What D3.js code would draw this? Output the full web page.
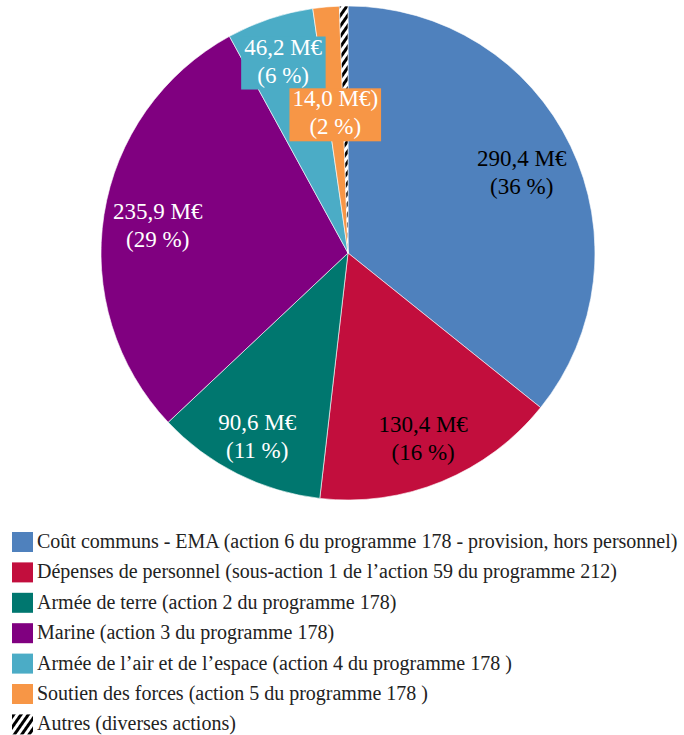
<!DOCTYPE html>
<html>
<head>
<meta charset="utf-8">
<script src="https://cdn.jsdelivr.net/npm/d3@7"></script>
<style>
  body { margin: 0; background: #fff; }
  svg { display: block; font-family: "Liberation Serif", "DejaVu Serif", serif; }
</style>
</head>
<body>
<svg id="chart" width="684" height="735"></svg>
<script>
// Budget split (M€), slices clockwise from 12 o'clock
const categories = [
  'Coût communs - EMA (action 6 du programme 178 - provision, hors personnel)',
  'Dépenses de personnel (sous-action 1 de l’action 59 du programme 212)',
  'Armée de terre (action 2 du programme 178)',
  'Marine (action 3 du programme 178)',
  'Armée de l’air et de l’espace (action 4 du programme 178 )',
  'Soutien des forces (action 5 du programme 178 )',
  'Autres (diverses actions)'
];
const values = [290.4, 130.4, 90.6, 235.9, 46.2, 14.0, 4.5];
const valueLabels = ['290,4 M€', '130,4 M€', '90,6 M€', '235,9 M€', '46,2 M€', '14,0 M€)', ''];
const pctLabels = ['(36 %)', '(16 %)', '(11 %)', '(29 %)', '(6 %)', '(2 %)', ''];
const colors = ['#4F81BD', '#C20E3D', '#00776F', '#800080', '#4BACC6', '#F79646', 'url(#hatch)'];
const labelColors = ['#000', '#000', '#fff', '#fff', '#fff', '#fff', '#fff'];

const svg = d3.select('#chart');
const cx = 348, cy = 253, radius = 247;

// hatch pattern for "Autres"
const defs = svg.append('defs');
const pat = defs.append('pattern').attr('id', 'hatch')
  .attr('patternUnits', 'userSpaceOnUse').attr('width', 6).attr('height', 6)
  .attr('patternTransform', 'rotate(35)');
pat.append('rect').attr('width', 6).attr('height', 6).attr('fill', '#fff');
pat.append('rect').attr('width', 3).attr('height', 6).attr('fill', '#000');

const pie = d3.pie().sort(null).value(d => d)(values);
const arc = d3.arc().innerRadius(0).outerRadius(radius);
// label radius as share of the radius; small slices get their own spot
const labelRadius = [0.78, 0.8, 0.82, 0.78, 0.83, 0.58, 0];

const g = svg.append('g').attr('transform', `translate(${cx},${cy})`);

g.selectAll('path.slice').data(pie).enter().append('path')
  .attr('class', 'slice')
  .attr('d', arc)
  .attr('fill', (d, i) => colors[i])
  .attr('stroke', '#fff').attr('stroke-width', 0.6);

// data labels
pie.forEach((d, i) => {
  if (!valueLabels[i]) return;
  const la = d3.arc().innerRadius(radius * labelRadius[i]).outerRadius(radius * labelRadius[i]);
  const [lx, ly] = la.centroid(d);
  const lg = g.append('g').attr('transform', `translate(${lx},${ly})`);
  const t = lg.append('text')
    .attr('text-anchor', 'middle')
    .style('font-size', '23px')
    .attr('fill', labelColors[i]);
  t.append('tspan').attr('x', 0).attr('y', -4).text(valueLabels[i]);
  t.append('tspan').attr('x', 0).attr('y', 24).text(pctLabels[i]);
  // boxed callouts for the two small slices
  if (i === 4 || i === 5) {
    const bb = t.node().getBBox();
    lg.insert('rect', 'text')
      .attr('x', bb.x - 3).attr('y', bb.y + 2)
      .attr('width', bb.width + 6).attr('height', bb.height)
      .attr('fill', colors[i]);
  }
});

// legend
const legend = svg.append('g').attr('transform', 'translate(12,532)');
const rows = legend.selectAll('g').data(categories).enter().append('g')
  .attr('transform', (d, i) => `translate(0,${i * 30.4})`);
rows.append('rect').attr('width', 21).attr('height', 20)
  .attr('fill', (d, i) => colors[i]);
rows.append('text').attr('x', 25).attr('y', 16)
  .style('font-size', '20px').attr('fill', '#222')
  .text(d => d);
</script>
</body>
</html>
